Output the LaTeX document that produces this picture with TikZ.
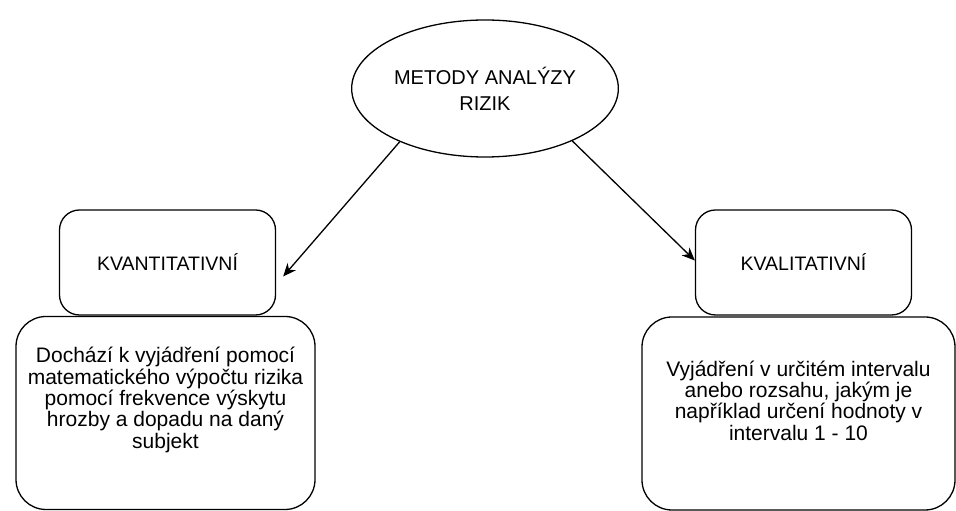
\documentclass[tikz,border=0pt]{standalone}
\usepackage{fontspec}
\setmainfont{Liberation Sans}
\usetikzlibrary{shapes,arrows.meta}

\begin{document}
\begin{tikzpicture}[x=1pt,y=1pt]
 \tikzstyle{every path}=[line width=1.3pt]

\edef\sizefont{20}
\tikzstyle{method}=[ellipse,draw,minimum width=216pt,minimum height=137pt,align=center,font=\fontsize{\sizefont}{26}\selectfont]
\tikzstyle{kind}=[rectangle,draw,rounded corners=20pt,minimum width=216pt,minimum height=105pt,font=\fontsize{19.5}{21}\selectfont]
\tikzstyle{descbox}=[rectangle,draw,rounded corners=30pt,minimum height=193pt]
\tikzstyle{desctext}=[align=center,font=\fontsize{21}{21.3}\selectfont]
\tikzstyle{link}=[-{Stealth[length=13pt,width=11pt,inset=4pt]}]

\useasboundingbox (0,0) rectangle (956,511);

%% Root of the tree
\node [method] (risk) at (485,422.5) {METODY ANALÝZY\\RIZIK};

%% Left branch
\node [kind] (kvant) at (167.5,248.5) {KVANTITATIVNÍ};
\node [descbox,minimum width=299pt] (kvantbox) at (165.5,98) {};
\node [desctext] (kvanttext) at ([yshift=13pt]kvantbox.center) {Dochází k vyjádření pomocí\\matematického výpočtu rizika\\pomocí frekvence výskytu\\hrozby a dopadu na daný\\subjekt};

%% Right branch
\node [kind] (kval) at (803.5,248.5) {KVALITATIVNÍ};
\node [descbox,minimum width=313pt] (kvalbox) at (798.5,97.5) {};
\node [desctext] (kvaltext) at ([yshift=13pt]kvalbox.center) {Vyjádření v určitém intervalu\\anebo rozsahu, jakým je\\například určení hodnoty v\\intervalu 1 - 10};

\draw [link] (risk.212) -- ([xshift=7pt,yshift=-14pt]kvant.east);
\draw [link] (risk.329) -- ([yshift=2pt]kval.west);

\end{tikzpicture}
\end{document}
